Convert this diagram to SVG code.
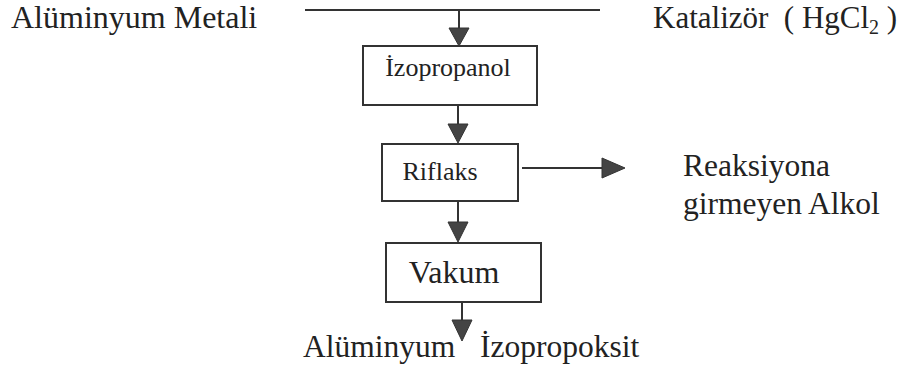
<svg xmlns="http://www.w3.org/2000/svg" width="910" height="368" viewBox="0 0 910 368">
<style>
text{font-family:"Liberation Serif","Times New Roman",serif;fill:#222}
.box{fill:#fff;stroke:#333;stroke-width:2}
.ln{stroke:#333;stroke-width:2;fill:none}
.ah{fill:#444;stroke:#333;stroke-width:1}
</style>
<rect width="910" height="368" fill="#fff"/>
<g id="connectors">
<line class="ln" x1="305" y1="10" x2="600" y2="10"/>
<line class="ln" x1="459" y1="10" x2="459" y2="30"/>
<polygon class="ah" points="449,28 469,28 459,46"/>
<line class="ln" x1="458" y1="105" x2="458" y2="126"/>
<polygon class="ah" points="448,124 468,124 458,143"/>
<line class="ln" x1="522" y1="168" x2="604" y2="168"/>
<polygon class="ah" points="602,158 602,178 625,168"/>
<line class="ln" x1="458" y1="201" x2="458" y2="224"/>
<polygon class="ah" points="448,222 468,222 458,242"/>
<line class="ln" x1="462" y1="302" x2="462" y2="322"/>
<polygon class="ah" points="452,320 472,320 462,341"/>
</g>
<g id="n-aluminyum-metali"><text x="11" y="28" font-size="32">Alüminyum Metali</text></g>
<g id="n-katalizor"><text x="653" y="28" font-size="31" xml:space="preserve">Katalizör  ( HgCl<tspan font-size="20" dy="6">2</tspan><tspan dy="-6"> )</tspan></text></g>
<g id="n-izopropanol"><rect class="box" x="363" y="46" width="174" height="59"/><text x="448" y="76" font-size="26" text-anchor="middle">İzopropanol</text></g>
<g id="n-riflaks"><rect class="box" x="382" y="144" width="136" height="57"/><text x="440" y="180" font-size="26" text-anchor="middle">Riflaks</text></g>
<g id="n-reaksiyona"><text x="683" y="176" font-size="31.5">Reaksiyona</text><text x="683" y="214" font-size="31.5">girmeyen Alkol</text></g>
<g id="n-vakum"><rect class="box" x="386" y="243" width="155" height="59"/><text x="454" y="283" font-size="32" text-anchor="middle">Vakum</text></g>
<g id="n-aluminyum-izopropoksit"><text y="357" font-size="31.5"><tspan x="303">Alüminyum</tspan><tspan x="480">İzopropoksit</tspan></text></g>
</svg>
